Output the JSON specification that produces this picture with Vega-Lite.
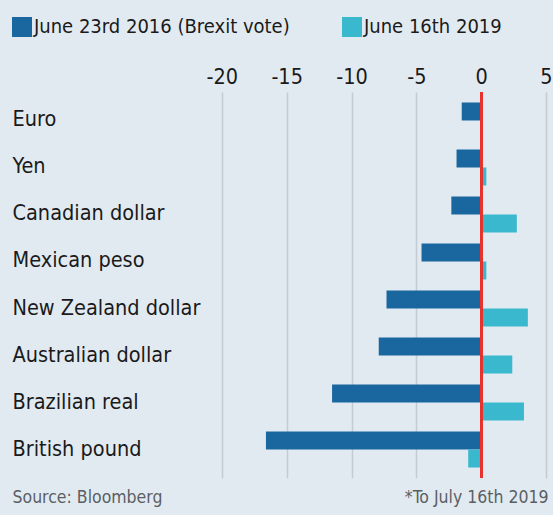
{
  "$schema": "https://vega.github.io/schema/vega-lite/v6.json",
  "width": 341,
  "height": 386,
  "autosize": {"type": "none"},
  "padding": {"left": 205, "top": 92, "right": 7, "bottom": 37},
  "background": "#e2eaf1",
  "config": {
    "view": {"stroke": null},
    "font": "DejaVu Sans Condensed, sans-serif"
  },
  "data": {
    "values": [
      {"currency": "Euro", "period": "June 23rd 2016 (Brexit vote)", "value": -1.5},
      {"currency": "Euro", "period": "June 16th 2019", "value": 0.0},
      {"currency": "Yen", "period": "June 23rd 2016 (Brexit vote)", "value": -1.9},
      {"currency": "Yen", "period": "June 16th 2019", "value": 0.4},
      {"currency": "Canadian dollar", "period": "June 23rd 2016 (Brexit vote)", "value": -2.3},
      {"currency": "Canadian dollar", "period": "June 16th 2019", "value": 2.75},
      {"currency": "Mexican peso", "period": "June 23rd 2016 (Brexit vote)", "value": -4.6},
      {"currency": "Mexican peso", "period": "June 16th 2019", "value": 0.4},
      {"currency": "New Zealand dollar", "period": "June 23rd 2016 (Brexit vote)", "value": -7.3},
      {"currency": "New Zealand dollar", "period": "June 16th 2019", "value": 3.6},
      {"currency": "Australian dollar", "period": "June 23rd 2016 (Brexit vote)", "value": -7.9},
      {"currency": "Australian dollar", "period": "June 16th 2019", "value": 2.4},
      {"currency": "Brazilian real", "period": "June 23rd 2016 (Brexit vote)", "value": -11.5},
      {"currency": "Brazilian real", "period": "June 16th 2019", "value": 3.3},
      {"currency": "British pound", "period": "June 23rd 2016 (Brexit vote)", "value": -16.6},
      {"currency": "British pound", "period": "June 16th 2019", "value": -1.0}
    ]
  },
  "layer": [
    {
      "mark": {"type": "bar"},
      "encoding": {
        "y": {
          "field": "currency",
          "type": "nominal",
          "sort": ["Euro", "Yen", "Canadian dollar", "Mexican peso", "New Zealand dollar", "Australian dollar", "Brazilian real", "British pound"],
          "scale": {"paddingInner": 0.234, "paddingOuter": 0.223},
          "axis": {
            "title": "Source: Bloomberg",
            "titleAngle": 0,
            "titleAlign": "left",
            "titleBaseline": "middle",
            "titleX": -193,
            "titleY": 405,
            "titleFontSize": 17.5,
            "titleFontWeight": "normal",
            "titleColor": "#5a5f64",
            "ticks": false,
            "domain": false,
            "grid": false,
            "labelAlign": "left",
            "labelPadding": 193,
            "labelFontSize": 21.5,
            "labelColor": "#1a1a1a",
            "labelLimit": 300
          }
        },
        "yOffset": {
          "field": "period",
          "type": "nominal",
          "sort": ["June 23rd 2016 (Brexit vote)", "June 16th 2019"]
        },
        "x": {
          "field": "value",
          "type": "quantitative",
          "scale": {"domain": [-21.3, 5], "nice": false, "zero": false},
          "axis": {
            "orient": "top",
            "values": [-20, -15, -10, -5, 0, 5],
            "labelExpr": "replace(datum.label, '\u2212', '-')",
            "title": "*To July 16th 2019",
            "titleX": 343,
            "titleY": 405,
            "titleAlign": "right",
            "titleBaseline": "middle",
            "titleFontSize": 17.5,
            "titleFontWeight": "normal",
            "titleColor": "#5a5f64",
            "ticks": false,
            "domain": false,
            "grid": true,
            "gridColor": "#c3cbd3",
            "gridWidth": 1.5,
            "labelFontSize": 21.5,
            "labelColor": "#1a1a1a",
            "labelPadding": 4,
            "labelFlush": false
          }
        },
        "color": {
          "field": "period",
          "type": "nominal",
          "sort": ["June 23rd 2016 (Brexit vote)", "June 16th 2019"],
          "scale": {"range": ["#1a679f", "#3ab8cd"]},
          "legend": {
            "orient": "none",
            "legendX": -193,
            "legendY": -75,
            "direction": "horizontal",
            "title": null,
            "symbolType": "square",
            "symbolSize": 400,
            "symbolStrokeWidth": 0,
            "symbolOpacity": 1,
            "labelFontSize": 20,
            "labelColor": "#1a1a1a",
            "labelOffset": 2,
            "labelLimit": 400,
            "columnPadding": 52
          }
        }
      }
    },
    {
      "mark": {"type": "rule", "color": "#e8322c", "strokeWidth": 2},
      "encoding": {"x": {"datum": 0}}
    }
  ]
}
